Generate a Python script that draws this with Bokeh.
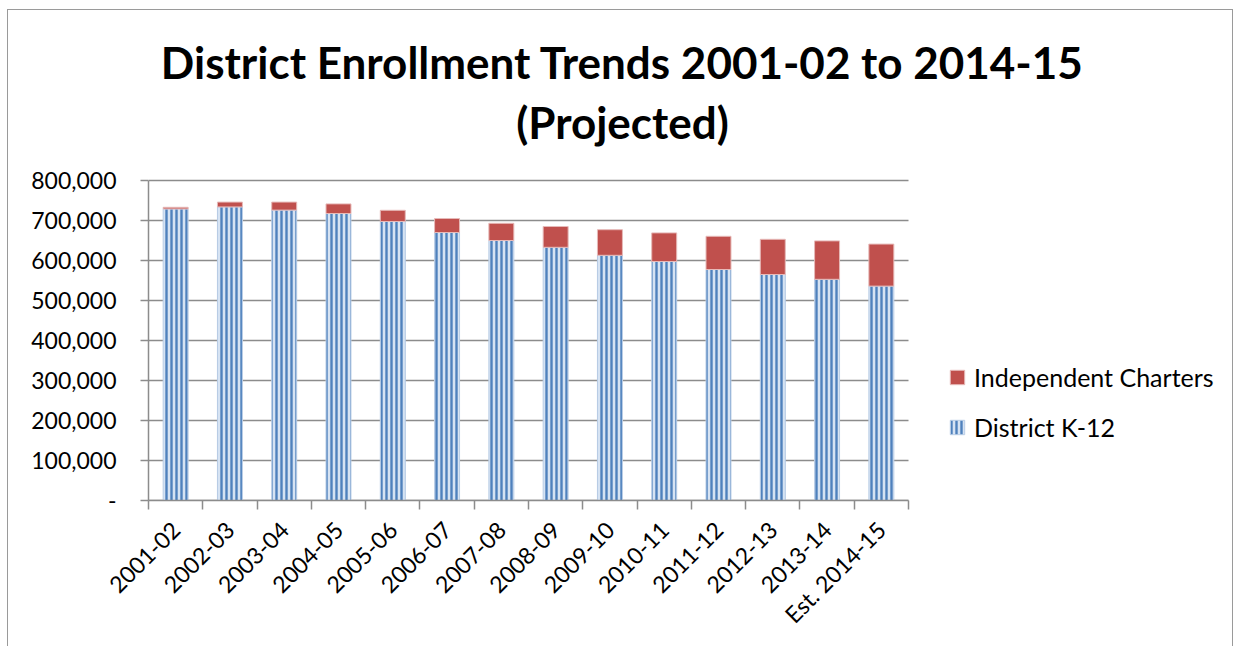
import math
from bokeh.plotting import figure
from bokeh.models import (ColumnDataSource, FixedTicker, Legend, LegendItem,
                          NumeralTickFormatter, Range1d, Label)
from bokeh.embed import file_html
from bokeh.resources import INLINE

years = ["2001-02", "2002-03", "2003-04", "2004-05", "2005-06", "2006-07",
         "2007-08", "2008-09", "2009-10", "2010-11", "2011-12", "2012-13",
         "2013-14", "Est. 2014-15"]
district = [729000, 734000, 726000, 717500, 697500, 670000, 650000,
            633000, 613000, 597500, 577500, 565000, 553000, 536000]
charters = [4000, 12000, 20000, 24000, 28000, 35000, 43000,
            52000, 64000, 71500, 83000, 88000, 96000, 105000]
y_ticks = [0, 100000, 200000, 300000, 400000, 500000, 600000, 700000, 800000]
title_lines = ["District Enrollment Trends 2001-02 to 2014-15", "(Projected)"]

FONT = "Lato"
GRID = "#8c8c8c"

# ---- layout geometry (pixels, canvas coordinates) ----
W, H = 1226, 637
AX_L, AX_R = 140, 900        # plotted axis span (x)
AX_T, AX_B = 170, 490        # plotted axis span (y)
FR_T, FR_R = 10, 1218        # frame extends up / right to hold title & legend
n = len(years)
YMAX = y_ticks[-1]
px_per_x = (AX_R - AX_L) / n
px_per_y = (AX_B - AX_T) / YMAX
x_end = (FR_R - AX_L) / px_per_x
y_end = (AX_B - FR_T) / px_per_y

xc = [i + 0.5 for i in range(n)]
top = [d + c for d, c in zip(district, charters)]
src = ColumnDataSource(dict(x=xc, district=district, top=top))

p = figure(width=W, height=H, x_range=Range1d(0, x_end), y_range=Range1d(0, y_end),
           output_backend="svg", toolbar_location=None,
           min_border_left=AX_L, min_border_right=W - FR_R, min_border_top=FR_T,
           min_border_bottom=H - AX_B)
p.outline_line_color = None
p.styles = {"margin-left": "7px", "margin-top": "9px",
            "border-top": "1px solid #9a9a9a", "border-left": "1px solid #9a9a9a",
            "border-right": "1px solid #9a9a9a"}

# horizontal gridlines limited to the axis span
p.xgrid.visible = False
p.ygrid.visible = False
p.segment(x0=[0] * len(y_ticks), x1=[n] * len(y_ticks), y0=y_ticks, y1=y_ticks,
          line_color=GRID, line_width=1.5)

r_d = p.vbar(x="x", bottom=0, top="district", width=0.46, source=src,
             fill_color="#d6e3f3", line_color="#b9cde5", line_width=1,
             hatch_pattern="vertical_line", hatch_color="#4f81bd",
             hatch_scale=5, hatch_weight=2.4)
r_c = p.vbar(x="x", bottom="district", top="top", width=0.46, source=src,
             fill_color="#c0504d", line_color="#e6b9b8", line_width=1)

# axes
p.yaxis.bounds = (0, YMAX)
p.yaxis.ticker = FixedTicker(ticks=y_ticks)
p.yaxis.formatter = NumeralTickFormatter(format="0,0")
p.yaxis.major_label_overrides = {0: "-"}
p.yaxis.axis_line_color = GRID
p.yaxis.axis_line_width = 1.5
p.yaxis.major_tick_line_color = GRID
p.yaxis.major_tick_line_width = 1.5
p.yaxis.major_tick_out = 8
p.yaxis.major_tick_in = 0
p.yaxis.minor_tick_line_color = None
p.yaxis.major_label_standoff = 24
p.yaxis.major_label_text_font = FONT
p.yaxis.major_label_text_font_size = "23px"
p.yaxis.major_label_text_color = "black"

p.xaxis.bounds = (0, n)
p.xaxis.ticker = FixedTicker(ticks=xc, minor_ticks=list(range(n + 1)))
p.xaxis.major_label_overrides = {x: lab for x, lab in zip(xc, years)}
p.xaxis.major_label_orientation = math.pi / 4
p.xaxis.axis_line_color = GRID
p.xaxis.axis_line_width = 1.5
p.xaxis.major_tick_line_color = None
p.xaxis.minor_tick_line_color = GRID
p.xaxis.minor_tick_line_width = 1.5
p.xaxis.minor_tick_out = 9
p.xaxis.minor_tick_in = 0
p.xaxis.major_label_standoff = 16
p.xaxis.major_label_text_font = FONT
p.xaxis.major_label_text_font_size = "23px"
p.xaxis.major_label_text_color = "black"

# title, centred over the whole chart (pixel positions converted to data)
title_cx = (614 - AX_L) / px_per_x
title_cy = [(AX_B - yy) / px_per_y for yy in (51, 111)]
for t, yy in zip(title_lines, title_cy):
    p.add_layout(Label(x=title_cx, y=yy, text=t,
                       text_align="center", text_baseline="middle",
                       text_font=FONT, text_font_style="bold",
                       text_font_size="44px", text_color="black"))

legend = Legend(items=[LegendItem(label="Independent Charters", renderers=[r_c]),
                       LegendItem(label="District K-12", renderers=[r_d])],
                location=(AX_R + 40 - AX_L, 58), orientation="vertical")
legend.background_fill_alpha = 0
legend.border_line_color = None
legend.label_text_font = FONT
legend.label_text_font_size = "25px"
legend.label_text_color = "black"
legend.glyph_width = 18
legend.glyph_height = 18
legend.label_standoff = 8
legend.spacing = 20
legend.padding = 0
legend.margin = 0
p.add_layout(legend, "center")

open("out.html", "w").write(file_html(p, INLINE))
